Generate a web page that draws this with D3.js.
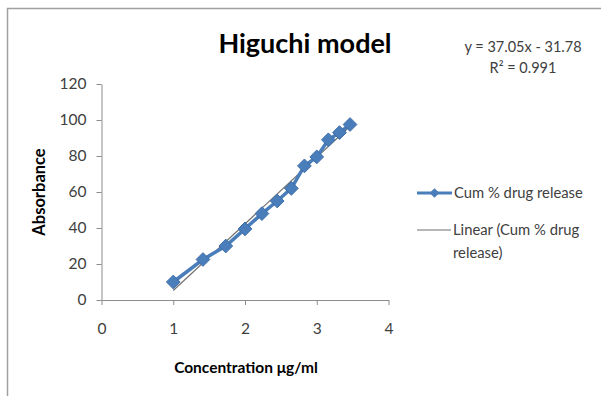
<!DOCTYPE html>
<html>
<head>
<meta charset="utf-8">
<script src="https://cdn.jsdelivr.net/npm/d3@7"></script>
<style>
  body { margin: 0; background: #fff; }
  text { font-family: Lato, "Open Sans", sans-serif; fill: #404040; }
</style>
</head>
<body>
<div id="chart"></div>
<script>
// Higuchi model: sqrt(time) vs cumulative % drug release
var xValues = [1, 1.414, 1.732, 2, 2.236, 2.449, 2.646, 2.828, 3, 3.162, 3.317, 3.464];
var yValues = [10, 22.5, 30, 39.5, 48, 55, 62, 74.5, 79.5, 89, 93, 97.5];
var xTicks = [0, 1, 2, 3, 4];
var yTicks = [0, 20, 40, 60, 80, 100, 120];
var slope = 37.05;
var intercept = -31.78;
var rSquared = 0.991;

var svg = d3.select('#chart').append('svg')
    .attr('width', 601)
    .attr('height', 396);

// frame
svg.append('path')
    .attr('d', 'M7.5,396 V8.5 H601')
    .attr('fill', 'none')
    .attr('stroke', '#a0a0a0')
    .attr('stroke-width', 1.5);

var x = d3.scaleLinear().domain([0, 4]).range([101.5, 388.5]);
var y = d3.scaleLinear().domain([0, 120]).range([300, 84]);

var xAxis = svg.append('g')
    .attr('transform', 'translate(0,300)')
    .call(d3.axisBottom(x).tickValues(xTicks).tickFormat(d3.format('d'))
        .tickSize(5).tickPadding(18).tickSizeOuter(0));

var yAxis = svg.append('g')
    .attr('transform', 'translate(101.5,0)')
    .call(d3.axisLeft(y).tickValues(yTicks).tickSize(5).tickPadding(10).tickSizeOuter(0));

[xAxis, yAxis].forEach(function(a) {
    a.select('.domain').attr('stroke', '#8c8c8c');
    a.selectAll('.tick line').attr('stroke', '#8c8c8c');
    a.selectAll('.tick text')
        .attr('font-size', '15.5px')
        .attr('font-family', 'Lato, sans-serif')
        .attr('fill', '#404040');
});

// trendline
svg.append('line')
    .attr('x1', x(xValues[0]))
    .attr('y1', y(slope * xValues[0] + intercept))
    .attr('x2', x(xValues[xValues.length - 1]))
    .attr('y2', y(slope * xValues[xValues.length - 1] + intercept))
    .attr('stroke', '#707070')
    .attr('stroke-width', 1.2);

var points = xValues.map(function(d, i) { return [d, yValues[i]]; });

var line = d3.line()
    .x(function(d) { return x(d[0]); })
    .y(function(d) { return y(d[1]); });

svg.append('path')
    .datum(points)
    .attr('d', line)
    .attr('fill', 'none')
    .attr('stroke', '#4a7ebb')
    .attr('stroke-width', 3.5);

var diamond = d3.symbol().type(d3.symbolDiamond2).size(120);

svg.selectAll('.pt')
    .data(points)
    .enter()
    .append('path')
    .attr('class', 'pt')
    .attr('d', diamond)
    .attr('transform', function(d) {
        return 'translate(' + x(d[0]) + ',' + y(d[1]) + ')';
    })
    .attr('fill', '#4a7ebb')
    .attr('stroke', '#3d6ca8')
    .attr('stroke-width', 1);

// titles
svg.append('text')
    .attr('x', 305)
    .attr('y', 53)
    .attr('text-anchor', 'middle')
    .attr('font-size', '27px')
    .attr('font-weight', 'bold')
    .style('fill', '#000')
    .text('Higuchi model');

svg.append('text')
    .attr('x', 246)
    .attr('y', 373)
    .attr('text-anchor', 'middle')
    .attr('font-size', '15.5px')
    .attr('font-weight', 'bold')
    .style('fill', '#000')
    .text('Concentration \u03bcg/ml');

svg.append('text')
    .attr('transform', 'translate(45,192) rotate(-90)')
    .attr('text-anchor', 'middle')
    .attr('font-size', '16.5px')
    .attr('font-weight', 'bold')
    .style('fill', '#000')
    .text('Absorbance');

// equation
svg.append('text')
    .attr('x', 523)
    .attr('y', 52)
    .attr('text-anchor', 'middle')
    .attr('font-size', '14.5px')
    .text('y = ' + slope + 'x - ' + Math.abs(intercept));

svg.append('text')
    .attr('x', 523)
    .attr('y', 73)
    .attr('text-anchor', 'middle')
    .attr('font-size', '14.5px')
    .text('R\u00b2 = ' + rSquared);

// legend
var legend = svg.append('g');

legend.append('line')
    .attr('x1', 417).attr('x2', 452)
    .attr('y1', 193).attr('y2', 193)
    .attr('stroke', '#4a7ebb')
    .attr('stroke-width', 3);

legend.append('path')
    .attr('d', d3.symbol().type(d3.symbolDiamond2).size(60))
    .attr('transform', 'translate(434.5,193)')
    .attr('fill', '#4a7ebb');

legend.append('text')
    .attr('x', 454)
    .attr('y', 198)
    .attr('font-size', '14.8px')
    .text('Cum % drug release');

legend.append('line')
    .attr('x1', 417).attr('x2', 451)
    .attr('y1', 230).attr('y2', 230)
    .attr('stroke', '#707070')
    .attr('stroke-width', 1.2);

legend.append('text')
    .attr('x', 453)
    .attr('y', 235)
    .attr('font-size', '14.8px')
    .text('Linear (Cum % drug');

legend.append('text')
    .attr('x', 453)
    .attr('y', 258)
    .attr('font-size', '14.8px')
    .text('release)');
</script>
</body>
</html>
